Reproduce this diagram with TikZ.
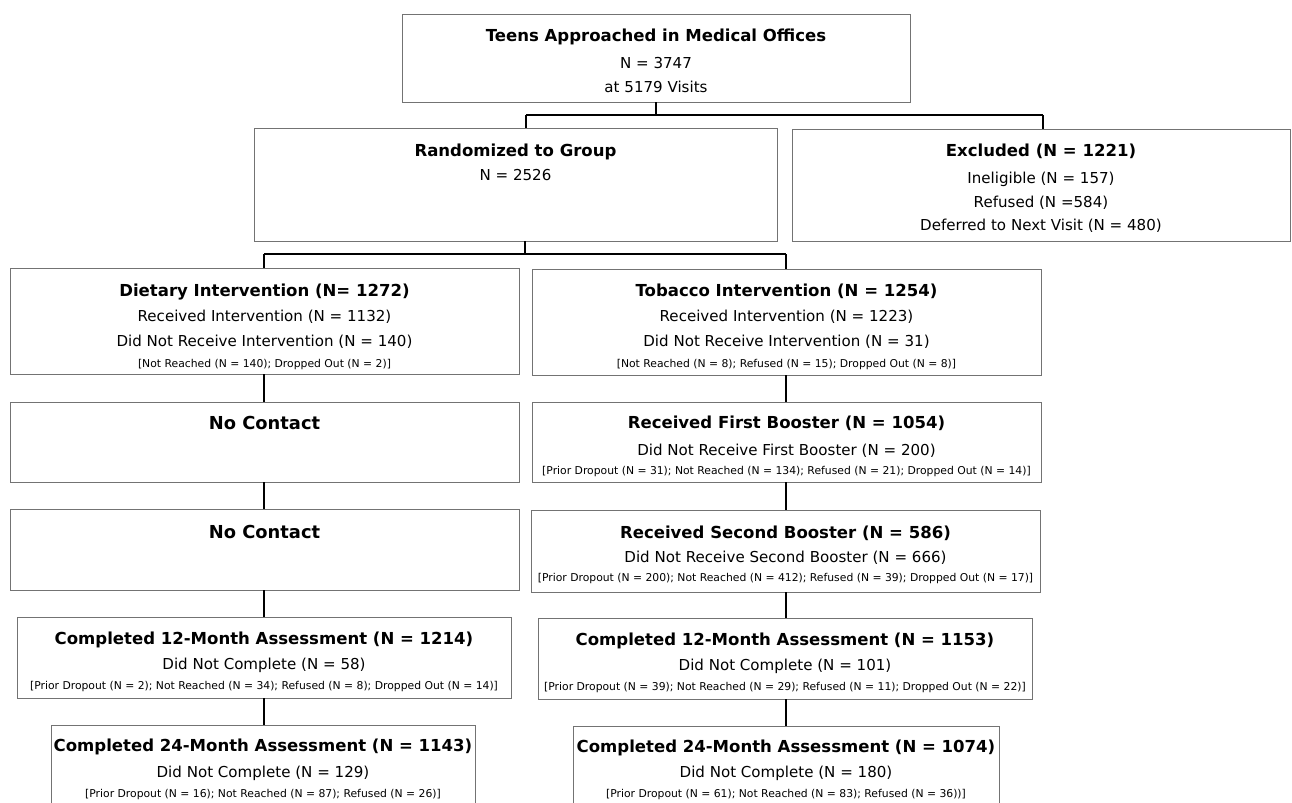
\documentclass[tikz,border=0pt]{standalone}
\usepackage{fontspec}
\setmainfont{DejaVu Sans}
\usetikzlibrary{fit}
\tikzset{
  box/.style={draw=black!55, line width=0.5pt, inner sep=0pt, fill=none},
  conn/.style={draw=black, line width=0.9pt},
  hd/.style={anchor=base, inner sep=0pt, font=\fontsize{12.4}{14}\selectfont\bfseries},
  hdbig/.style={anchor=base, inner sep=0pt, font=\fontsize{13.4}{15}\selectfont\bfseries},
  rg/.style={anchor=base, inner sep=0pt, font=\fontsize{11.3}{13}\selectfont},
  sm/.style={anchor=base, inner sep=0pt, font=\fontsize{8.1}{9.5}\selectfont},
}
\begin{document}
\begin{tikzpicture}[x=0.75pt,y=-0.75pt]
\useasboundingbox (0,0) rectangle (1292,803);
\fill[white] (0,0) rectangle (1292,803);

% boxes
\node[box, fit={(402,14) (910,102)}] (top) {};
\node[box, fit={(254,128) (777,241)}] (rand) {};
\node[box, fit={(792,129) (1290,241)}] (excl) {};
\node[box, fit={(10,268) (519,374)}] (diet) {};
\node[box, fit={(532,269) (1041,375)}] (tob) {};
\node[box, fit={(10,402) (519,482)}] (nca) {};
\node[box, fit={(532,402) (1041,482)}] (fb) {};
\node[box, fit={(10,509) (519,590)}] (ncb) {};
\node[box, fit={(531,510) (1040,592)}] (sb) {};
\node[box, fit={(17,617) (511,698)}] (mla) {};
\node[box, fit={(538,618) (1032,699)}] (mra) {};
\node[box, fit={(51,725) (475,808)}] (mlb) {};
\node[box, fit={(573,726) (999,808)}] (mrb) {};

% texts
\node[hd] (top1) at (656,41) {Teens Approached in Medical Offices};
\node[rg] (top2) at (656,68.5) {N = 3747};
\node[rg] (top3) at (656,92.5) {at 5179 Visits};

\node[hd] (rand1) at (515.5,156) {Randomized to Group};
\node[rg] (rand2) at (515.5,180.5) {N = 2526};

\node[hd] (excl1) at (1041,156) {Excluded (N = 1221)};
\node[rg] (excl2) at (1041,183.5) {Ineligible (N = 157)};
\node[rg] (excl3) at (1041,207.5) {Refused (N =584)};
\node[rg] (excl4) at (1041,230.5) {Deferred to Next Visit (N = 480)};

\node[hd] (diet1) at (264.5,296) {Dietary Intervention (N= 1272)};
\node[rg] (diet2) at (264.5,321) {Received Intervention (N = 1132)};
\node[rg] (diet3) at (264.5,346) {Did Not Receive Intervention (N = 140)};
\node[sm] (diet4) at (264.5,367) {[Not Reached (N = 140); Dropped Out (N = 2)]};

\node[hd] (tob1) at (786.5,296) {Tobacco Intervention (N = 1254)};
\node[rg] (tob2) at (786.5,321) {Received Intervention (N = 1223)};
\node[rg] (tob3) at (786.5,346) {Did Not Receive Intervention (N = 31)};
\node[sm] (tob4) at (786.5,367) {[Not Reached (N = 8); Refused (N = 15); Dropped Out (N = 8)]};

\node[hdbig] (nca1) at (264.5,429.5) {No Contact};
\node[hd] (fb1) at (786.5,428) {Received First Booster (N = 1054)};
\node[rg] (fb2) at (786.5,455.5) {Did Not Receive First Booster (N = 200)};
\node[sm] (fb3) at (786.5,474) {[Prior Dropout (N = 31); Not Reached (N = 134); Refused (N = 21); Dropped Out (N = 14)]};

\node[hdbig] (ncb1) at (264.5,538.5) {No Contact};
\node[hd] (sb1) at (785.5,538) {Received Second Booster (N = 586)};
\node[rg] (sb2) at (785.5,562.5) {Did Not Receive Second Booster (N = 666)};
\node[sm] (sb3) at (785.5,581) {[Prior Dropout (N = 200); Not Reached (N = 412); Refused (N = 39); Dropped Out (N = 17)]};

\node[hd] (mla1) at (264,644) {Completed 12-Month Assessment (N = 1214)};
\node[rg] (mla2) at (264,669.5) {Did Not Complete (N = 58)};
\node[sm] (mla3) at (264,689) {[Prior Dropout (N = 2); Not Reached (N = 34); Refused (N = 8); Dropped Out (N = 14)]};

\node[hd] (mra1) at (785,645) {Completed 12-Month Assessment (N = 1153)};
\node[rg] (mra2) at (785,670.5) {Did Not Complete (N = 101)};
\node[sm] (mra3) at (785,690) {[Prior Dropout (N = 39); Not Reached (N = 29); Refused (N = 11); Dropped Out (N = 22)]};

\node[hd] (mlb1) at (263,751) {Completed 24-Month Assessment (N = 1143)};
\node[rg] (mlb2) at (263,777.5) {Did Not Complete (N = 129)};
\node[sm] (mlb3) at (263,797) {[Prior Dropout (N = 16); Not Reached (N = 87); Refused (N = 26)]};

\node[hd] (mrb1) at (786,752) {Completed 24-Month Assessment (N = 1074)};
\node[rg] (mrb2) at (786,777.5) {Did Not Complete (N = 180)};
\node[sm] (mrb3) at (786,797) {[Prior Dropout (N = 61); Not Reached (N = 83); Refused (N = 36))]};

% connectors
\coordinate (ja) at (656,115);
\coordinate (jal) at (526,115);
\coordinate (jar) at (1043,115);
\draw[conn] (top.south) -- (ja);
\draw[conn] (jal) -- (jar);
\draw[conn] (jal) -- (jal |- rand.north);
\draw[conn] (jar) -- (jar |- excl.north);

\coordinate (jb) at (525,254);
\coordinate (jbl) at (264,254);
\coordinate (jbr) at (786,254);
\draw[conn] (jb |- rand.south) -- (jb);
\draw[conn] (jbl) -- (jbr);
\draw[conn] (jbl) -- (jbl |- diet.north);
\draw[conn] (jbr) -- (jbr |- tob.north);

\draw[conn] (jbl |- diet.south) -- (jbl |- nca.north);
\draw[conn] (jbl |- nca.south) -- (jbl |- ncb.north);
\draw[conn] (jbl |- ncb.south) -- (jbl |- mla.north);
\draw[conn] (jbl |- mla.south) -- (jbl |- mlb.north);

\draw[conn] (jbr |- tob.south) -- (jbr |- fb.north);
\draw[conn] (jbr |- fb.south) -- (jbr |- sb.north);
\draw[conn] (jbr |- sb.south) -- (jbr |- mra.north);
\draw[conn] (jbr |- mra.south) -- (jbr |- mrb.north);
\end{tikzpicture}
\end{document}
